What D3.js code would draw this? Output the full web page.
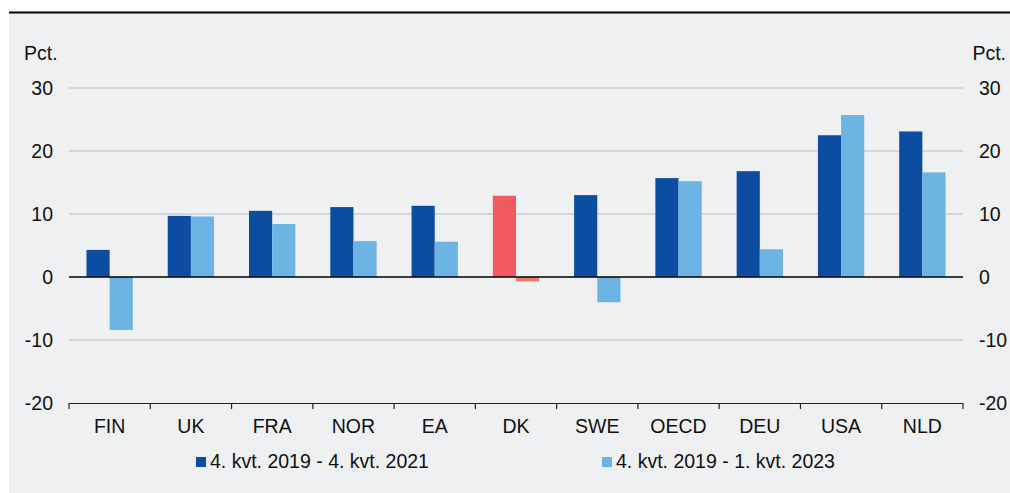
<!DOCTYPE html>
<html>
<head>
<meta charset="utf-8">
<script src="https://cdn.jsdelivr.net/npm/d3@7"></script>
<style>
  body { margin: 0; background: #fff; }
  svg { display: block; font-family: "Liberation Sans", Arial, sans-serif; }
</style>
</head>
<body>
<svg id="chart" width="1010" height="493"></svg>
<script>
const categories = ['FIN', 'UK', 'FRA', 'NOR', 'EA', 'DK', 'SWE', 'OECD', 'DEU', 'USA', 'NLD'];
const series1 = [4.3, 9.7, 10.5, 11.1, 11.3, 12.9, 13.0, 15.7, 16.8, 22.5, 23.1];
const series2 = [-8.4, 9.6, 8.4, 5.7, 5.6, -0.7, -4.0, 15.2, 4.4, 25.7, 16.6];
const seriesNames = ['4. kvt. 2019 - 4. kvt. 2021', '4. kvt. 2019 - 1. kvt. 2023'];
const yTicks = [-20, -10, 0, 10, 20, 30];

const colors = ['#0c4da2', '#6cb4e4'];
const highlight = { DK: ['#f05a60', '#f07868'] };
const fs = 19.5;

const svg = d3.select('#chart');

// background panel + top rule
svg.append('rect').attr('x', 9).attr('y', 12).attr('width', 1001).attr('height', 481).attr('fill', '#eff0f2');
svg.append('line').attr('x1', 9).attr('x2', 1010).attr('y1', 12.5).attr('y2', 12.5)
  .attr('stroke', '#000').attr('stroke-width', 2);

const left = 69;
const right = 963;
const x = d3.scaleBand().domain(categories).range([left, right]).paddingInner(0.43).paddingOuter(0.215);
const y = d3.scaleLinear().domain([-20, 30]).range([403, 88]);

// gridlines
svg.append('g').selectAll('line').data(yTicks.filter((t) => t !== -20 && t !== 0)).join('line')
  .attr('x1', left).attr('x2', right)
  .attr('y1', (d) => y(d)).attr('y2', (d) => y(d))
  .attr('stroke', '#bcbcbc').attr('stroke-width', 1);

// y labels both sides
const yl = svg.append('g').attr('font-size', fs).attr('fill', '#111');
yl.selectAll('text.l').data(yTicks).join('text').attr('class', 'l')
  .attr('x', 53).attr('y', (d) => y(d) + 7).attr('text-anchor', 'end').text((d) => d);
yl.selectAll('text.r').data(yTicks).join('text').attr('class', 'r')
  .attr('x', 979).attr('y', (d) => y(d) + 7).attr('text-anchor', 'start').text((d) => d);
yl.append('text').attr('x', 24).attr('y', 60).text('Pct.');
yl.append('text').attr('x', 1006).attr('y', 60).attr('text-anchor', 'end').text('Pct.');

// bars
const bw = x.bandwidth() / 2;
const bars = svg.append('g');
categories.forEach((c, i) => {
  const cols = highlight[c] || colors;
  [series1[i], series2[i]].forEach((v, j) => {
    bars.append('rect')
      .attr('x', x(c) + j * bw)
      .attr('y', y(Math.max(0, v)))
      .attr('width', bw)
      .attr('height', Math.abs(y(v) - y(0)))
      .attr('fill', cols[j]);
  });
});

// zero line
svg.append('line').attr('x1', left).attr('x2', right).attr('y1', y(0)).attr('y2', y(0))
  .attr('stroke', '#000').attr('stroke-width', 1.5);

// bottom axis with ticks at category boundaries
const step = (right - left) / categories.length;
const axisG = svg.append('g');
axisG.append('line').attr('x1', left).attr('x2', right).attr('y1', 403.5).attr('y2', 403.5)
  .attr('stroke', '#222').attr('stroke-width', 1.2);
axisG.selectAll('line.t').data(d3.range(categories.length + 1)).join('line').attr('class', 't')
  .attr('x1', (d) => left + d * step).attr('x2', (d) => left + d * step)
  .attr('y1', 403).attr('y2', 409).attr('stroke', '#222').attr('stroke-width', 1.2);
axisG.selectAll('text').data(categories).join('text')
  .attr('x', (d) => x(d) + x.bandwidth() / 2).attr('y', 433)
  .attr('text-anchor', 'middle').attr('font-size', fs).attr('fill', '#111').text((d) => d);

// legend
const legendX = [196, 602];
const lg = svg.append('g').selectAll('g').data(seriesNames).join('g')
  .attr('transform', (d, i) => `translate(${legendX[i]},457)`);
lg.append('rect').attr('width', 10).attr('height', 10).attr('fill', (d, i) => colors[i]);
lg.append('text').attr('x', 14).attr('y', 11).attr('font-size', fs).attr('fill', '#111').text((d) => d);
</script>
</body>
</html>
